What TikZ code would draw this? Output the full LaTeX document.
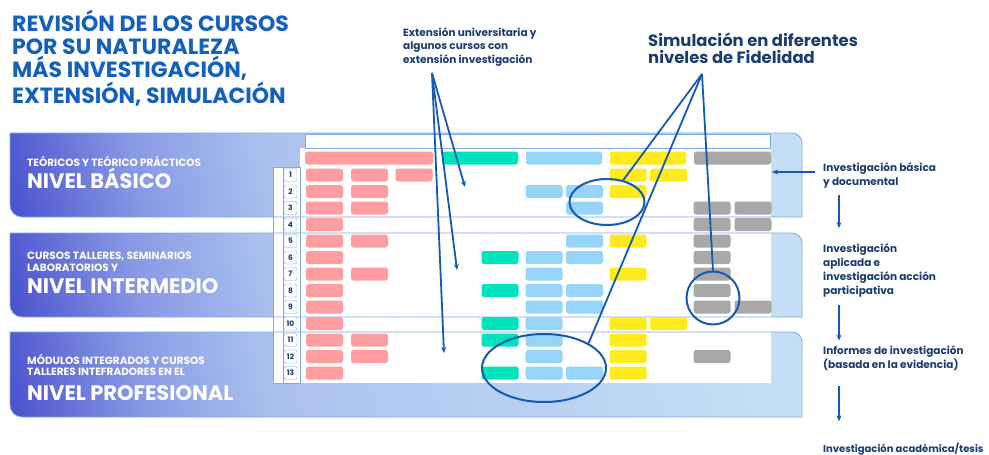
\documentclass[tikz,border=0pt]{standalone}
\usepackage{fontspec}
\setmainfont{Poppins}
\usetikzlibrary{calc,positioning,shapes.geometric,arrows.meta}
\definecolor{titleblue}{RGB}{21,96,189}
\definecolor{navy}{RGB}{26,60,110}
\definecolor{lineblue}{RGB}{22,90,175}
\definecolor{pborder}{RGB}{125,170,228}
\definecolor{pdark}{RGB}{72,80,205}
\definecolor{pmid}{RGB}{135,152,228}
\definecolor{pmidb}{RGB}{172,194,238}
\definecolor{plight}{RGB}{196,222,246}
\definecolor{rd}{RGB}{255,158,160}
\definecolor{gn}{RGB}{0,228,190}
\definecolor{bl}{RGB}{150,212,250}
\definecolor{yl}{RGB}{255,234,30}
\definecolor{gy}{RGB}{168,168,168}
\pgfdeclarehorizontalshading{panelgrad}{100bp}{color(0bp)=(pdark); color(20bp)=(pdark); color(30bp)=(pmid); color(40bp)=(pmidb); color(75bp)=(plight); color(100bp)=(plight)}

\begin{document}
\begin{tikzpicture}[x=1pt,y=-1pt,
  cell/.style={rounded corners=2.5pt, inner sep=0, minimum width=37, minimum height=13},
  ring/.style={ellipse, draw=lineblue, line width=2pt, inner sep=0},
  ln/.style={draw=lineblue, line width=1.8pt},
  arr/.style={-{Stealth[length=6pt,width=5pt]}, draw=lineblue, line width=1.8pt}]
\tikzstyle{numbox}=[draw=pborder, fill=white, rounded corners=2pt, inner sep=0, minimum width=13, minimum height=13, text=navy, font=\bfseries\fontsize{7.5}{7.5}\selectfont]
\tikzstyle{lvl}=[anchor=base west, inner sep=0, align=left, text=white]
\tikzstyle{note}=[anchor=base west, inner sep=0, align=left, text=navy]
\useasboundingbox (0,0) rectangle (989,455);
\def\colx{{324.5,369.5,414,457,500,544,584.5,628,668.5,712,753}}

\foreach \ya/\yb in {133/217,233/317,332/417}{
  \path[shading=panelgrad, shading angle=12] (10,\ya) -- (792,\ya) .. controls (797.5,\ya) and (802,\ya+4.5) .. (802,\ya+10) -- (802,\yb) -- (22,\yb) .. controls (15.4,\yb) and (10,\yb-5.4) .. (10,\yb-12) -- cycle;
}

\fill[white] (300,148) rectangle (771,383);
\draw[pborder, fill=white] (305,134) rectangle (770,148);
\draw[pborder, fill=white] (273,167) rectangle (300,383);
\draw[pborder] (283,167) -- (283,383);

\foreach \ya/\yb in {133/217,233/317,332/417}{
  \draw[pborder, line width=0.8pt] (10,\ya) -- (792,\ya) .. controls (797.5,\ya) and (802,\ya+4.5) .. (802,\ya+10) -- (802,\yb) -- (22,\yb) .. controls (15.4,\yb) and (10,\yb-5.4) .. (10,\yb-12) -- cycle;
}

\node[cell, fill=rd, minimum width=128] (hrd) at (369,158) {};
\node[cell, fill=gn, minimum width=76] (hgn) at (480,158) {};
\node[cell, fill=bl, minimum width=76] (hbl) at (564,158) {};
\node[cell, fill=yl, minimum width=76] (hyl) at (648,158) {};
\node[cell, fill=gy, minimum width=77] (hgy) at (732.5,158) {};

\foreach \r/\lst in {
  1/{1/rd,2/rd,3/rd,8/yl,9/yl},
  2/{1/rd,2/rd,6/bl,7/bl,8/yl},
  3/{1/rd,2/rd,7/bl,10/gy,11/gy},
  4/{1/rd,10/gy,11/gy},
  5/{1/rd,2/rd,7/bl,8/yl,10/gy},
  6/{1/rd,5/gn,6/bl,7/bl,10/gy},
  7/{1/rd,2/rd,6/bl,8/yl,10/gy},
  8/{1/rd,5/gn,6/bl,7/bl,10/gy},
  9/{1/rd,6/bl,7/bl,10/gy,11/gy},
  10/{1/rd,5/gn,6/bl,8/yl,9/yl},
  11/{1/rd,2/rd,5/gn,6/bl,8/yl},
  12/{1/rd,2/rd,6/bl,8/yl,10/gy},
  13/{1/rd,5/gn,6/bl,7/bl,8/yl}}{
  \node[numbox] (n\r) at (290.5,{175+(\r-1)*16.5}) {\r};
  \foreach \c/\col in \lst{
    \pgfmathsetmacro\cx{\colx[\c-1]}
    \node[cell, fill=\col] (c\r-\c) at (\cx,{175+(\r-1)*16.5}) {};
  }
}

\node[lvl, font=\bfseries\fontsize{10.5}{12}\selectfont] (bas) at (27,166) {TEÓRICOS Y TEÓRICO PRÁCTICOS};
\node[lvl, font=\bfseries\fontsize{21}{21}\selectfont] (basn) at (27,188) {NIVEL BÁSICO};
\node[lvl, font=\bfseries\fontsize{10.5}{12}\selectfont] (int) at (27,271) {CURSOS TALLERES, SEMINARIOS\\LABORATORIOS Y};
\node[lvl, font=\bfseries\fontsize{21}{21}\selectfont] (intn) at (27,293) {NIVEL INTERMEDIO};
\node[lvl, font=\bfseries\fontsize{10.5}{11}\selectfont] (pro) at (27,375) {MÓDULOS INTEGRADOS Y CURSOS\\TALLERES INTEFRADORES EN EL};
\node[lvl, font=\bfseries\fontsize{21}{21}\selectfont] (pron) at (27,400) {NIVEL PROFESIONAL};

\node[anchor=base west, inner sep=0, align=left, text=titleblue, font=\bfseries\fontsize{22}{23.3}\selectfont] (title) at (12,103) {REVISIÓN DE LOS CURSOS\\POR SU NATURALEZA\\MÁS INVESTIGACIÓN,\\EXTENSIÓN, SIMULACIÓN};

\node[note, font=\bfseries\fontsize{10.5}{13.5}\selectfont] (ext) at (403,63) {Extensión universitaria y\\algunos cursos con\\extensión investigación};
\node[note, font=\bfseries\fontsize{16.4}{17}\selectfont] (sim) at (648,63) {Simulación en diferentes\\niveles de Fidelidad};

\node[ring, minimum width=75, minimum height=46] (sim1) at (607,202) {};
\node[ring, minimum width=124, minimum height=68] (sim2) at (544,368) {};
\node[ring, circle, minimum size=53] (sim3) at (713,298) {};
\coordinate (simo) at (702,74);
\foreach \t in {sim1, sim2.north east, sim3.north}{\draw[ln] (simo) -- (\t);}

\coordinate (exto) at (432,73);
\coordinate (ex1) at (465,187);
\coordinate (ex2) at (457,270);
\coordinate (ex3) at (444,353);
\foreach \t in {ex1,ex2,ex3}{\draw[ln,-{Stealth[length=6pt,width=5pt]}] (exto) -- (\t);}

\node[note, font=\bfseries\fontsize{10.5}{13.5}\selectfont] (ib) at (823,185) {Investigación básica\\y documental};
\node[note, font=\bfseries\fontsize{10.5}{14}\selectfont] (ia) at (823,294) {Investigación\\aplicada e\\investigación acción\\participativa};
\node[note, font=\bfseries\fontsize{10.5}{13.5}\selectfont] (ir) at (823,368) {Informes de investigación\\(basada en la evidencia)};
\node[note, font=\bfseries\fontsize{10}{13.5}\selectfont] (iat) at (823,452) {Investigación académica/tesis};
\coordinate (ibend) at (772,172);
\draw[arr, shorten <=8pt] (ib.west |- ibend) -- (ibend);
\draw[arr, shorten <=7pt, shorten >=15pt] ([xshift=16pt]ib.south west) -- ([xshift=16pt]ia.north west);
\draw[arr, shorten <=8pt, shorten >=5pt] ([xshift=16pt]ia.south west) -- ([xshift=16pt]ir.north west);
\draw[arr, shorten <=16pt, shorten >=21pt] ([xshift=16pt]ir.south west) -- ([xshift=16pt]iat.north west);
\end{tikzpicture}
\end{document}
